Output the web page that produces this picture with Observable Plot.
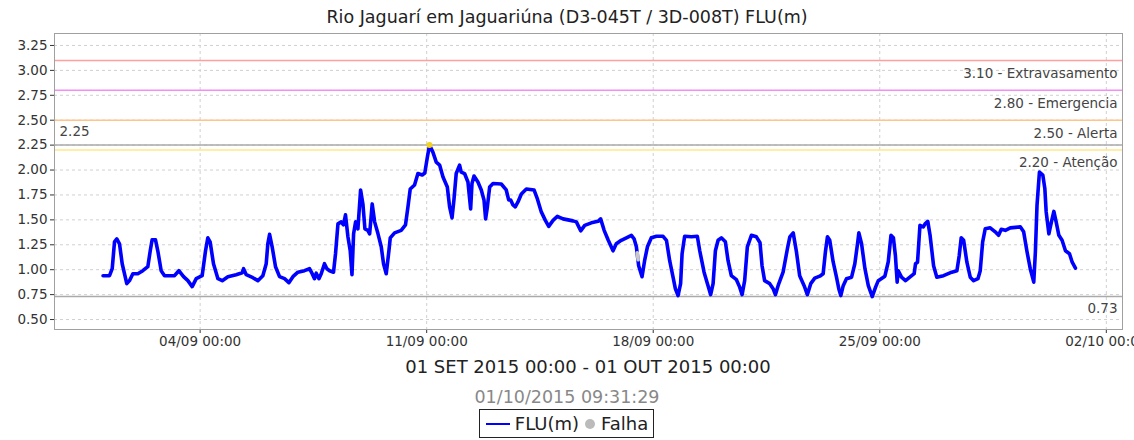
<!DOCTYPE html>
<html>
<head>
<meta charset="utf-8">
<script src="https://cdn.jsdelivr.net/npm/d3@7"></script>
<script src="https://cdn.jsdelivr.net/npm/@observablehq/plot@0.6"></script>
<style>
  html, body { margin: 0; padding: 0; background: #fff; }
  body { width: 1134px; height: 440px; position: relative; overflow: hidden; font-family: "DejaVu Sans", sans-serif; }
  .abs { position: absolute; left: 0; width: 1134px; text-align: center; white-space: nowrap; }
  #title { top: 5px; font-size: 17.5px; line-height: 24px; color: #222; }
  #chart { position: absolute; top: 28px; left: 0; }
  #range { top: 356px; left: 0; width: 1176px; font-size: 18px; line-height: 22px; color: #222; }
  #stamp { top: 386px; font-size: 17.5px; line-height: 22px; color: #888; }
  #legend { position: absolute; top: 409px; left: 479px; width: 175px; height: 29px; border: 1px solid #222;
            display: flex; align-items: center; justify-content: center; gap: 4px; font-size: 18px; color: #222; box-sizing: border-box; }
</style>
</head>
<body>
<div id="title" class="abs">Rio Jaguarí em Jaguariúna (D3-045T / 3D-008T) FLU(m)</div>
<div id="chart"></div>
<div id="range" class="abs">01 SET 2015 00:00 - 01 OUT 2015 00:00</div>
<div id="stamp" class="abs">01/10/2015 09:31:29</div>
<div id="legend">
  <svg width="26" height="10"><line x1="1" y1="5" x2="25" y2="5" stroke="#0000ff" stroke-width="2"/></svg>
  <span>FLU(m)</span>
  <svg width="14" height="12"><circle cx="7" cy="6" r="5" fill="#bbb"/></svg>
  <span>Falha</span>
</div>
<script>
// Hours since 01/09/2015 00:00 and FLU(m) values
const hours = [0,4.8,6.8,8.5,10.2,12.2,14.2,17.6,19.6,22.1,25.8,29.5,33.2,35,36.4,38.9,40.6,43.1,45.6,53,56.2,59.7,62.9,66.1,69.1,73.5,76,77.7,79.4,81.9,85.2,88.4,92.6,98.7,103.2,104.2,106.2,111.1,114.8,118.5,121,122.2,123.5,125.4,127.9,130.9,134.6,137.8,140.8,144.5,149.4,153.1,155.1,156.8,158.1,160.1,161.8,164.2,166,168,170.9,172.4,174.2,176.6,178.3,179.8,181.6,183.3,184.6,185.8,187.3,189,191,192.7,194.2,196.4,197.7,199.6,201.4,203.9,206.3,208,210,212,213,216.2,221.1,224.3,226.1,227.8,231,233.5,236.7,238.6,240.4,242.1,244.6,247.1,249.6,252.1,255.3,257,258.8,260.2,261.9,264.4,265.6,268.1,270.6,272.6,273.6,275.1,278,280.5,282.5,283.7,285,286.7,289.2,295.3,299,300.8,302.3,304,305.7,307.7,310.2,313.9,319.6,322.1,325,328,330.5,333.7,336.9,341.1,344.8,348.5,351,354.2,357.2,362.1,367.1,369,371.6,374.5,378.2,380.6,384.3,388.1,391.8,393.8,395.5,397.2,399.7,401.6,403.7,406.6,410.4,415.3,417.8,420.2,422.7,424.4,426.4,428.3,429.4,431.3,436.3,440.7,442.5,445.7,448.2,450.6,452.4,454.1,456.1,458.5,461.5,463.5,465.9,469.7,472.1,473.9,475.8,477.8,480.8,484.5,487.2,488.7,490.6,494.4,496.9,498.6,500.6,504.3,507.5,509.3,511.8,514.2,516.6,519.9,522.3,524.8,527.8,531.5,534,535.7,537.2,538.9,541.4,543.9,545.6,547.1,548.9,551.3,555.1,557.5,559.5,560.5,562.5,565,567.5,570.4,572.9,574.9,579.8,582.3,584.3,586.1,587.6,588.9,589.7,592.1,595.1,598.3,601.5,602.5,604,605.8,608.3,609.6,611.6,613.3,615.9,618.3,623.3,629.4,633.2,634.9,636.4,638.2,640.6,643.1,645.6,648.8,650.5,652.3,654.2,657.9,661.6,664.1,666.1,669.1,672.8,680.2,682.7,685.2,687.6,690.2,691.4,692.6,694.4,696.9,698.4,699.4,701.4,703.3,705.1,706.8,708.8,711.2,713.7,716.7,718.7,721.1];
const flu = [0.94,0.94,1.01,1.28,1.31,1.26,1.06,0.86,0.89,0.96,0.96,0.99,1.03,1.19,1.30,1.30,1.19,0.99,0.94,0.94,0.99,0.93,0.89,0.83,0.91,0.94,1.19,1.32,1.28,1.06,0.91,0.89,0.93,0.95,0.97,1.01,0.95,0.92,0.89,0.94,1.06,1.26,1.355,1.23,1.03,0.93,0.91,0.87,0.93,0.975,0.99,1.01,0.96,0.91,0.965,0.91,0.96,1.06,1.01,0.99,0.975,1.16,1.46,1.48,1.45,1.55,1.33,1.19,0.95,1.36,1.48,1.41,1.80,1.66,1.41,1.395,1.36,1.66,1.48,1.36,1.23,1.06,0.96,1.19,1.32,1.37,1.395,1.45,1.63,1.81,1.85,1.965,1.95,1.97,2.12,2.25,2.18,2.08,2.05,1.93,1.83,1.63,1.52,1.70,1.965,2.05,1.98,1.965,1.88,1.61,1.865,1.94,1.88,1.80,1.70,1.51,1.63,1.83,1.865,1.86,1.80,1.70,1.70,1.65,1.63,1.68,1.76,1.81,1.80,1.71,1.58,1.495,1.435,1.495,1.535,1.51,1.50,1.49,1.48,1.39,1.445,1.47,1.485,1.51,1.395,1.30,1.19,1.26,1.295,1.32,1.345,1.31,1.23,1.04,0.93,1.09,1.23,1.32,1.335,1.335,1.295,1.09,0.925,0.81,0.74,0.86,1.16,1.335,1.33,1.335,1.19,0.975,0.86,0.75,0.86,1.19,1.295,1.32,1.28,1.09,0.94,0.90,0.825,0.75,0.89,1.23,1.345,1.33,1.27,1.04,0.89,0.86,0.81,0.75,0.84,0.975,1.21,1.33,1.37,1.18,0.94,0.84,0.75,0.86,0.915,0.935,0.96,1.18,1.33,1.295,1.08,0.925,0.81,0.74,0.84,0.91,0.925,1.06,1.26,1.37,1.26,1.01,0.84,0.73,0.825,0.89,0.935,1.08,1.345,1.32,1.14,0.875,0.99,0.925,0.89,0.925,0.96,1.06,1.075,1.445,1.43,1.46,1.485,1.345,1.04,0.925,0.94,0.975,0.99,1.14,1.32,1.295,1.075,0.925,0.89,0.91,0.99,1.28,1.41,1.42,1.38,1.345,1.405,1.395,1.42,1.43,1.38,1.18,1.01,0.875,1.18,1.645,1.98,1.95,1.815,1.58,1.36,1.48,1.585,1.48,1.345,1.295,1.19,1.16,1.075,1.015];

// Failure samples (gray)
const falhaHours = [396.2, 396.8];
const falhaValues = [1.17, 1.10];

// Thresholds
const thrValues = [3.10, 2.80, 2.50, 2.20];
const thrLabels = ["3.10 - Extravasamento", "2.80 - Emergencia", "2.50 - Alerta", "2.20 - Atenção"];
const thrColors = ["#ff9f9f", "#f68cf6", "#ffc48a", "#ffe98a"];

// Max / min markers
const maxValue = 2.25, maxLabel = "2.25";
const minValue = 0.73, minLabel = "0.73";

// Axis ticks
const yTicks = [0.50, 0.75, 1.00, 1.25, 1.50, 1.75, 2.00, 2.25, 2.50, 2.75, 3.00, 3.25];
const xTickLabels = ["2015-09-04", "2015-09-11", "2015-09-18", "2015-09-25", "2015-10-02"];

const t0 = Date.UTC(2015, 8, 1);
const toDate = h => new Date(t0 + h * 3600e3);
const series = hours.map((h, i) => ({t: toDate(h), v: flu[i]}));
const falha = falhaHours.map((h, i) => ({t: toDate(h), v: falhaValues[i]}));
const thresholds = thrValues.map((v, i) => ({v, label: thrLabels[i], color: thrColors[i]}));
const xTicks = xTickLabels.map(s => new Date(s + "T00:00:00Z"));
const peakIdx = flu.indexOf(Math.max(...flu));
const peak = [series[peakIdx]];

const chart = Plot.plot({
  width: 1134,
  height: 327,
  marginTop: 5,
  marginBottom: 26,
  marginLeft: 54,
  marginRight: 12,
  style: {fontFamily: "DejaVu Sans, sans-serif", fontSize: "13.5px", color: "#333", background: "#fff"},
  x: {type: "utc", domain: [new Date(Date.UTC(2015, 7, 30, 12)), new Date(Date.UTC(2015, 9, 2, 12))],
      ticks: xTicks, tickFormat: d3.utcFormat("%d/%m %H:%M"), label: null, tickSize: 4, tickPadding: 3},
  y: {domain: [0.40, 3.37], ticks: yTicks, tickFormat: d => d.toFixed(2), label: null, tickSize: 4, tickPadding: 3},
  color: {type: "identity"},
  marks: [
    Plot.ruleY(yTicks, {stroke: "#d0d0d0", strokeDasharray: "3,3"}),
    Plot.ruleX(xTicks, {stroke: "#d0d0d0", strokeDasharray: "3,3"}),
    Plot.ruleY(thresholds, {y: "v", stroke: "color", strokeWidth: 1.5}),
    Plot.text(thresholds, {y: "v", text: "label", frameAnchor: "right", textAnchor: "end", dx: -5, dy: 13, fill: "#444"}),
    Plot.ruleY([maxValue, minValue], {stroke: "#aaaaaa", strokeWidth: 1.5}),
    Plot.text([maxValue], {y: d => d, text: [maxLabel], frameAnchor: "left", textAnchor: "start", dx: 5, dy: -13, fill: "#444"}),
    Plot.text([minValue], {y: d => d, text: [minLabel], frameAnchor: "right", textAnchor: "end", dx: -5, dy: 12, fill: "#444"}),
    Plot.line(series, {x: "t", y: "v", stroke: "#0000ff", strokeWidth: 3.6, strokeLinejoin: "round", strokeLinecap: "round"}),
    Plot.line(falha, {x: "t", y: "v", stroke: "#c8c8c8", strokeWidth: 3.6}),
    Plot.dot(peak, {x: "t", y: "v", r: 3, fill: "#f2d21a", stroke: "none"}),
    Plot.frame({stroke: "#a0a0a0"})
  ]
});
document.getElementById("chart").appendChild(chart);
</script>
</body>
</html>
